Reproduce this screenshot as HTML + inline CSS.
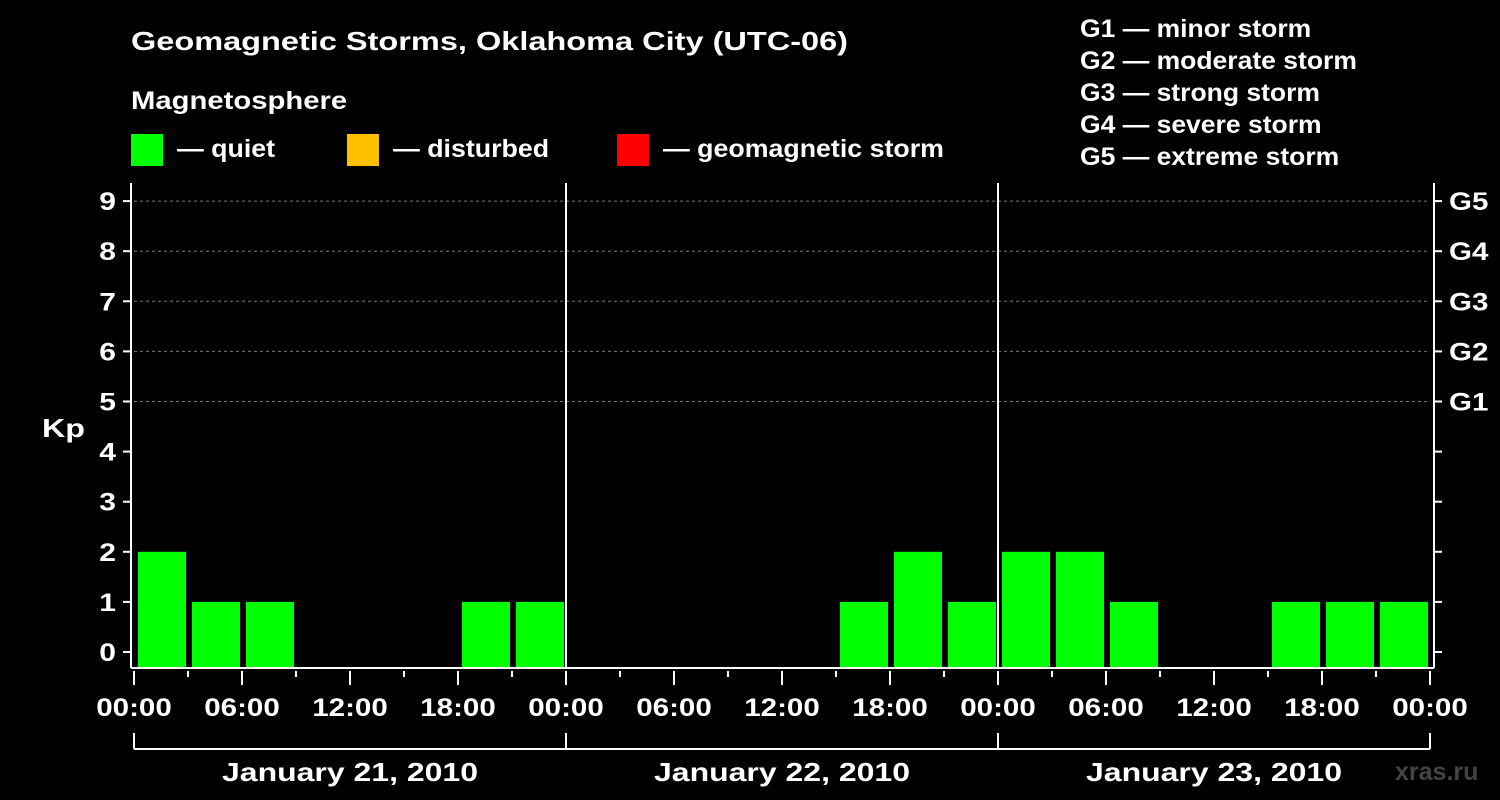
<!DOCTYPE html>
<html><head><meta charset="utf-8"><style>
html,body{margin:0;padding:0;background:#000;}
svg{display:block;font-family:"Liberation Sans",Arial,sans-serif;font-weight:bold;fill:#fff;}
</style></head><body>
<svg id="chart" width="1500" height="800" viewBox="0 0 1500 800">
<rect width="1500" height="800" fill="#000"/>
<text x="131" y="50" font-size="26" data-sx="1.25">Geomagnetic Storms, Oklahoma City (UTC-06)</text>
<text x="131" y="109" font-size="25" data-sx="1.17">Magnetosphere</text>
<g><rect x="131" y="134" width="32" height="32" fill="#00ff00"/><text x="177" y="157" font-size="25" data-sx="1.07">— quiet</text></g>
<g><rect x="347" y="134" width="32" height="32" fill="#ffc000"/><text x="393" y="157" font-size="25" data-sx="1.07">— disturbed</text></g>
<g><rect x="617" y="134" width="32" height="32" fill="#ff0000"/><text x="663" y="157" font-size="25" data-sx="1.07">— geomagnetic storm</text></g>
<g font-size="25">
<text x="1080" y="37" data-sx="1.06">G1 — minor storm</text>
<text x="1080" y="69" data-sx="1.06">G2 — moderate storm</text>
<text x="1080" y="101" data-sx="1.06">G3 — strong storm</text>
<text x="1080" y="133" data-sx="1.06">G4 — severe storm</text>
<text x="1080" y="165" data-sx="1.06">G5 — extreme storm</text>
</g>
<text x="42" y="437" font-size="26" data-sx="1.24">Kp</text>
<text x="1395" y="780" font-size="25" style="fill:#444">xras.ru</text>
<g id="grid"></g>
<g id="bars"></g>
<g id="axes" stroke="#fff" stroke-width="2" fill="none"></g>
<g id="labels"></g>
</svg>
<script>
const days = ["January 21, 2010","January 22, 2010","January 23, 2010"];
const kpDay1 = [2,1,1,0,0,0,1,1];
const kpDay2 = [0,0,0,0,0,1,2,1];
const kpDay3 = [2,2,1,0,0,1,1,1];
const yTicks = [0,1,2,3,4,5,6,7,8,9];
const gLabels = ["G1","G2","G3","G4","G5"];
const hourLabels = ["00:00","06:00","12:00","18:00"];

const NS="http://www.w3.org/2000/svg";
const X0=134, X1=1430, YT=183, YB=668;
const totalSlots = days.length*8;
const xs = i => X0 + (X1-X0)*i/totalSlots;
const ys = v => 652 - v*50.1;
function mk(tag, attrs, parent){const e=document.createElementNS(NS,tag);for(const k in attrs)e.setAttribute(k,attrs[k]);parent.appendChild(e);return e;}
const grid=document.getElementById('grid'), bars=document.getElementById('bars'), axes=document.getElementById('axes'), labels=document.getElementById('labels');

yTicks.forEach(v=>{
  if(v>=5){const l=mk('line',{x1:X0,x2:X1,y1:ys(v),y2:ys(v),stroke:'#777','stroke-dasharray':'3,3','stroke-width':1},grid);
  
  }
  const t=mk('line',{x1:123,x2:131,y1:ys(v),y2:ys(v)},axes);
  
  
  const t2=mk('line',{x1:1434,x2:1442,y1:ys(v),y2:ys(v)},axes);
  
  
  const tx=mk('text',{x:116,y:ys(v)+9,'font-size':25,'text-anchor':'end','data-sx':1.2},labels);
  tx.textContent=v;
  
  
});
gLabels.forEach((g,i)=>{
  const tx=mk('text',{x:1449,y:ys(5+i)+9,'font-size':25,'data-sx':1.18},labels);
  tx.textContent=g;
  
  
});
const all=[kpDay1,kpDay2,kpDay3];
all.forEach((arr,d)=>arr.forEach((v,h)=>{
  if(v<=0) return;
  const i=d*8+h;
  const color = v>=5?'#ff0000':(v>=4?'#ffc000':'#00ff00');
  const r=mk('rect',{x:xs(i)+4,y:ys(v),width:xs(i+1)-xs(i)-6,height:YB-ys(v),fill:color},bars);
  
  
}));
mk('line',{x1:131,x2:131,y1:YT,y2:YB},axes);
mk('line',{x1:1434,x2:1434,y1:YT,y2:YB},axes);
mk('line',{x1:131,x2:1434,y1:YB,y2:YB},axes);
for(let d=1;d<days.length;d++){const l=mk('line',{x1:xs(d*8),x2:xs(d*8),y1:YT,y2:YB},axes);
  
  }
for(let i=0;i<=totalSlots;i++){
  const major=i%2===0;
  mk('line',{x1:xs(i),x2:xs(i),y1:YB+3,y2:major?685:677},axes);
  if(major){const tx=mk('text',{x:xs(i),y:716,'font-size':25,'text-anchor':'middle','data-sx':1.18},labels);
    tx.textContent=hourLabels[(i/2)%4];
    
    }
}
mk('line',{x1:X0,x2:X1,y1:749,y2:749},axes);
for(let d=0;d<=days.length;d++) mk('line',{x1:xs(d*8),x2:xs(d*8),y1:733,y2:749},axes);
days.forEach((s,d)=>{
  const tx=mk('text',{x:(xs(d*8)+xs(d*8+8))/2,y:781,'font-size':26,'text-anchor':'middle','data-sx':1.23},labels);
  tx.textContent=s;
  
  
});
document.querySelectorAll('text[data-sx]').forEach(t=>{
  const w=t.getComputedTextLength()*parseFloat(t.getAttribute('data-sx'));
  t.setAttribute('textLength',w.toFixed(1));
  t.setAttribute('lengthAdjust','spacingAndGlyphs');
});
</script>
</body></html>
